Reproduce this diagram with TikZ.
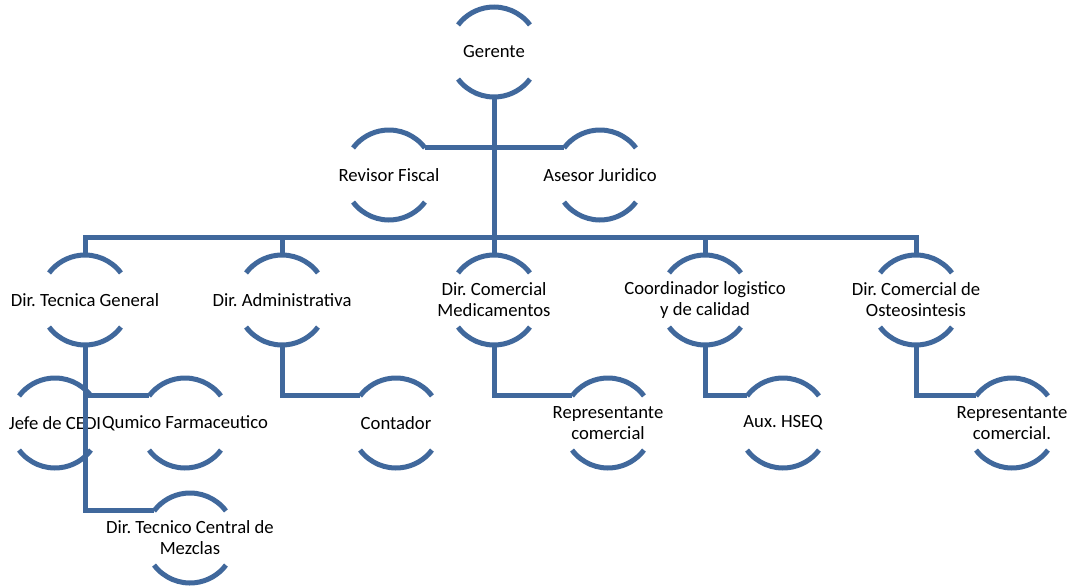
\documentclass[tikz,border=0pt]{standalone}
\usepackage{fontspec}
\setmainfont{Carlito}
\usepackage{tikz}

\definecolor{orgblue}{RGB}{64,104,156}
\frenchspacing

\begin{document}
\begin{tikzpicture}[
x=0.75pt,
y=0.75pt,
unit/.style={circle,minimum size=67.5pt,inner sep=0pt,outer sep=0pt},
txt/.style={font=\fontsize{14}{15.75}\selectfont,align=center,inner sep=0pt},
ring/.style={draw=orgblue,line width=3.75pt},
link/.style={draw=orgblue,line width=3.75pt}
]
\useasboundingbox (0,0) rectangle (1077,-585);

\node[unit,label={[txt]center:Gerente}] (ger) at (494,-52) {};
\node[unit,label={[txt]center:Revisor Fiscal}] (rev) at (389,-175) {};
\node[unit,label={[txt]center:Asesor Juridico}] (ases) at (600,-175) {};
\coordinate (bus) at (494,-237);
\node[unit,label={[txt]center:Dir. Tecnica General}] (dtg) at (85,-300) {};
\node[unit,label={[txt]center:Dir. Administrativa}] (dadm) at (282,-300) {};
\node[unit,label={[txt]center:Dir. Comercial\\Medicamentos}] (dcm) at (494,-300) {};
\node[unit,label={[txt]center:Coordinador logistico\\y de calidad}] (coord) at (705,-300) {};
\node[unit,label={[txt]center:Dir. Comercial de\\Osteosintesis}] (dco) at (916,-300) {};
\node[unit,label={[txt]center:Jefe de CEDI}] (cedi) at (55,-423) {};
\node[unit,label={[txt]center:Qumico Farmaceutico}] (qf) at (185,-423) {};
\node[unit,label={[txt]center:Dir. Tecnico Central de\\Mezclas}] (mez) at (190,-538) {};
\node[unit,label={[txt]center:Contador}] (cont) at (396,-423) {};
\node[unit,label={[txt]center:Representante\\comercial}] (rep1) at (608,-423) {};
\node[unit,label={[txt]center:Aux. HSEQ}] (aux) at (783,-423) {};
\node[unit,label={[txt]center:Representante\\comercial.}] (rep2) at (1012,-423) {};

% connectors
\draw[link] (ger.south) -- (bus);
\draw[link] (rev.37) -- (ases.143);
\draw[link] (bus) -| (dtg.north);
\draw[link] (bus) -| (dadm.north);
\draw[link] (bus) -- (dcm.north);
\draw[link] (bus) -| (coord.north);
\draw[link] (bus) -| (dco.north);
\draw[link] (dtg.south) |- (qf.143);
\draw[link] (dtg.south) |- (mez.143);
\draw[link] (dadm.south) |- (cont.143);
\draw[link] (dcm.south) |- (rep1.143);
\draw[link] (coord.south) |- (aux.143);
\draw[link] (dco.south) |- (rep2.143);

% open rings
\foreach \n in {ger,rev,ases,dtg,dadm,dcm,coord,dco,cedi,qf,mez,cont,rep1,aux,rep2}
  \draw[ring] (\n.37) arc[start angle=37,end angle=143,radius=33.75pt]
              (\n.217) arc[start angle=217,end angle=323,radius=33.75pt];
\end{tikzpicture}
\end{document}
